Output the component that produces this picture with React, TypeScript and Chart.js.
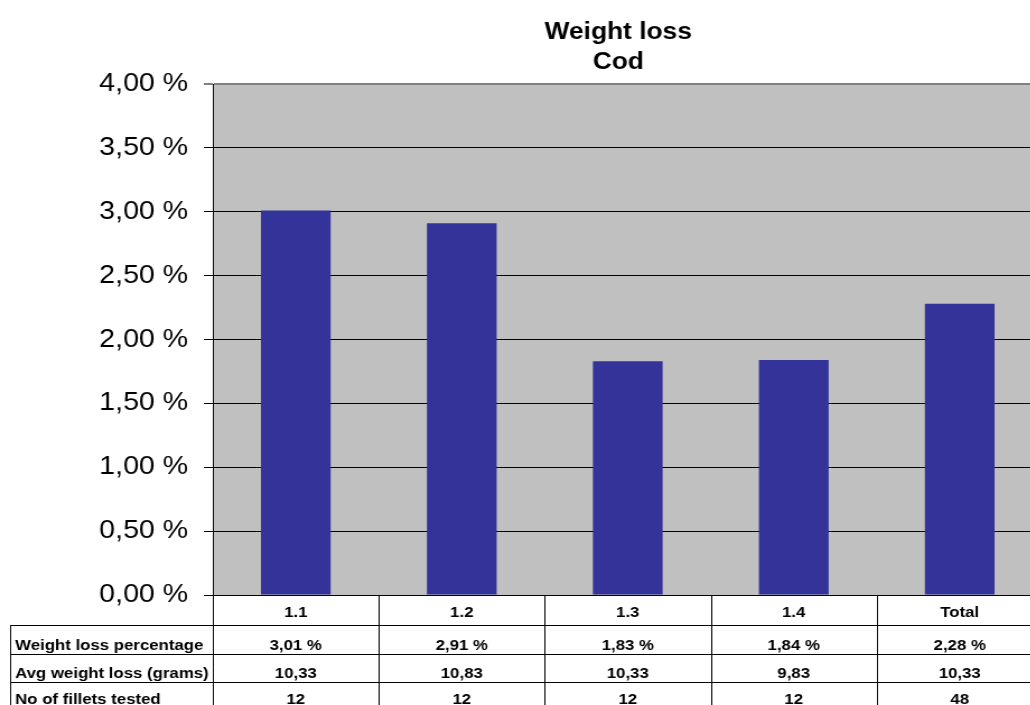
import { useEffect, useRef } from "react";
import { Chart, registerables } from "chart.js";

Chart.register(...registerables);

// Data
const categories = ["1.1", "1.2", "1.3", "1.4", "Total"];
const weightLossPct = [3.01, 2.91, 1.83, 1.84, 2.28];
const avgWeightLossGrams = [10.33, 10.83, 10.33, 9.83, 10.33];
const filletsTested = [12, 12, 12, 12, 48];
const rowLabels = ["Weight loss percentage", "Avg weight loss (grams)", "No of fillets tested"];
const titleLines = ["Weight loss", "Cod"];
const yMin = 0;
const yMax = 4;
const yStep = 0.5;

const FONT = '"Liberation Sans", Arial, Helvetica, sans-serif';
const STRETCH = 1.12;
const CANVAS_W = 931;
const CANVAS_H = 705;

const comma = (v: number, d: number) => v.toFixed(d).replace(".", ",");

const tableRows: string[][] = [
  weightLossPct.map((v) => comma(v, 2) + " %"),
  avgWeightLossGrams.map((v) => comma(v, 2)),
  filletsTested.map((v) => String(v)),
];

// grey plot background
const plotBackground = {
  id: "plotBackground",
  beforeDraw(chart: any) {
    const { ctx, chartArea: a } = chart;
    ctx.save();
    ctx.fillStyle = "#C0C0C0";
    ctx.fillRect(a.left, a.top, a.right - a.left, a.bottom - a.top);
    ctx.restore();
  },
};

// two-line bold title
const titlePlugin = {
  id: "titleLines",
  afterDraw(chart: any) {
    const { ctx } = chart;
    ctx.save();
    ctx.fillStyle = "#000";
    ctx.font = `bold 23.5px ${FONT}`;
    ctx.textAlign = "center";
    ctx.textBaseline = "alphabetic";
    const cx = 552;
    const baselines = [39, 68.5];
    titleLines.forEach((t, i) => ctx.fillText(t, cx, baselines[i]));
    ctx.restore();
  },
};

// data table under the category axis
const dataTable = {
  id: "dataTable",
  afterDraw(chart: any) {
    const { ctx, chartArea: a } = chart;
    const xs = chart.scales.x;
    const labels: string[] = chart.data.labels;
    const n = labels.length;
    const colW = (a.right - a.left) / n;
    const top = a.bottom;
    const rowHeights = [30, 29, 28, 26];
    const rowTops: number[] = [top];
    rowHeights.forEach((h, i) => rowTops.push(rowTops[i] + h));
    const tableLeft = 9;
    const bottom = rowTops[rowTops.length - 1] + 4;

    ctx.save();
    ctx.strokeStyle = "#000";
    ctx.lineWidth = 1;
    ctx.beginPath();
    // column separators
    for (let i = 0; i <= n; i++) {
      const x = Math.round(a.left + i * colW) + 0.5;
      ctx.moveTo(x, top);
      ctx.lineTo(x, bottom);
    }
    // row separators
    for (let r = 1; r < rowTops.length - 1; r++) {
      const y = Math.round(rowTops[r]) + 0.5;
      ctx.moveTo(tableLeft, y);
      ctx.lineTo(a.right, y);
    }
    // left border of the labelled rows
    ctx.moveTo(tableLeft + 0.5, rowTops[1]);
    ctx.lineTo(tableLeft + 0.5, bottom);
    ctx.stroke();

    ctx.fillStyle = "#000";
    ctx.font = `bold 15px ${FONT}`;
    ctx.textBaseline = "alphabetic";

    // header row with category names
    ctx.textAlign = "center";
    labels.forEach((lab, i) => {
      ctx.fillText(lab, xs.getPixelForValue(i), rowTops[1] - 8);
    });

    // value rows
    tableRows.forEach((row, r) => {
      const base = rowTops[r + 2] - 4;
      ctx.textAlign = "left";
      ctx.fillText(rowLabels[r], 13.5, base);
      ctx.textAlign = "center";
      row.forEach((val, i) => ctx.fillText(val, xs.getPixelForValue(i), base));
    });
    ctx.restore();
  },
};

export default function App() {
  const canvasRef = useRef<HTMLCanvasElement | null>(null);

  useEffect(() => {
    const canvas = canvasRef.current;
    if (!canvas) return;
    const chart = new Chart(canvas, {
      type: "bar",
      data: {
        labels: categories,
        datasets: [
          {
            label: "Weight loss percentage",
            data: weightLossPct,
            backgroundColor: "#333399",
            borderWidth: 0,
            categoryPercentage: 1,
            barPercentage: 0.42,
          },
        ],
      },
      plugins: [plotBackground, dataTable, titlePlugin],
      options: {
        animation: false,
        responsive: false,
        devicePixelRatio: 1,
        layout: { padding: { left: 0, right: 0, top: 84, bottom: CANVAS_H - 595 } },
        plugins: {
          legend: { display: false },
          tooltip: { enabled: false },
          title: { display: false },
        },
        scales: {
          x: {
            display: false,
            offset: true,
          },
          y: {
            min: yMin,
            max: yMax,
            afterFit: (scale: any) => {
              scale.width = 190;
            },
            ticks: {
              stepSize: yStep,
              color: "#000",
              padding: 14,
              font: { family: FONT, size: 25.5 },
              callback: (v: any) => comma(Number(v), 2) + " %",
            },
            border: { display: true, color: "#000", width: 1 },
            grid: {
              color: (c: any) => (c.tick && c.tick.value === yMax ? "#808080" : "#000"),
              lineWidth: (c: any) => (c.tick && c.tick.value === yMax ? 2 : 1),
              tickColor: "#000",
              tickWidth: 1,
              tickLength: 8,
            },
          },
        },
      },
    });
    return () => chart.destroy();
  }, []);

  return (
    <div
      style={{
        position: "fixed",
        left: 0,
        top: 0,
        width: 1030,
        height: 705,
        overflow: "hidden",
        background: "#fff",
      }}
    >
      <div
        style={{
          width: CANVAS_W,
          height: CANVAS_H,
          transform: `scaleX(${STRETCH})`,
          transformOrigin: "0 0",
        }}
      >
        <canvas ref={canvasRef} width={CANVAS_W} height={CANVAS_H} style={{ display: "block" }} />
      </div>
    </div>
  );
}
